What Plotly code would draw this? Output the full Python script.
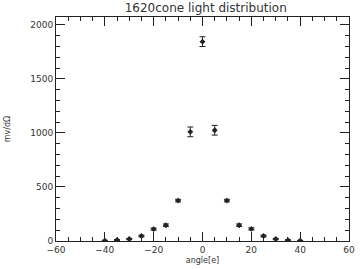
import plotly.graph_objects as go

angles = [-40, -35, -30, -25, -20, -15, -10, -5, 0, 5, 10, 15, 20, 25, 30, 35, 40]
signal = [3, 9, 18, 46, 110, 146, 374, 1010, 1845, 1025, 374, 146, 112, 46, 18, 7, 2]
errors = [4, 5, 6, 8, 10, 12, 12, 45, 45, 45, 12, 12, 10, 8, 6, 5, 4]

x_ticks = [-60, -40, -20, 0, 20, 40, 60]
y_ticks = [0, 500, 1000, 1500, 2000]

ink = "#222222"
text_ink = "#333333"

fig = go.Figure()
fig.add_trace(go.Scatter(
    x=angles, y=signal, mode="markers",
    marker=dict(symbol="diamond", size=4.5, color=ink),
    error_y=dict(type="data", array=errors, visible=True, color=ink,
                 thickness=1, width=3),
    showlegend=False,
))

axis_common = dict(
    showgrid=False, zeroline=False, showline=True, linecolor=ink, linewidth=1,
    mirror="ticks", ticks="inside", ticklen=9, tickcolor=ink, tickwidth=1,
    tickfont=dict(family="DejaVu Sans", size=9, color=text_ink),
)

fig.update_layout(
    width=361, height=269,
    margin=dict(l=56, r=6, t=17, b=25),
    paper_bgcolor="white", plot_bgcolor="white",
    title=dict(text="1620cone light distribution", x=0.57, xanchor="center",
               y=0.972, yanchor="middle",
               font=dict(family="DejaVu Sans", size=12, color=text_ink)),
    xaxis=dict(range=[-60, 60], tickvals=x_ticks,
               minor=dict(dtick=5, ticks="inside", ticklen=4, tickcolor=ink),
               title=dict(text="angle[e]", standoff=3,
                          font=dict(family="DejaVu Sans", size=8, color=text_ink)),
               **axis_common),
    yaxis=dict(range=[0, 2073], tickvals=y_ticks,
               minor=dict(dtick=100, ticks="inside", ticklen=4, tickcolor=ink),
               title=dict(text="mv/dΩ", standoff=18,
                          font=dict(family="DejaVu Sans", size=8, color=text_ink)),
               **axis_common),
)

fig.write_html("out.html")
